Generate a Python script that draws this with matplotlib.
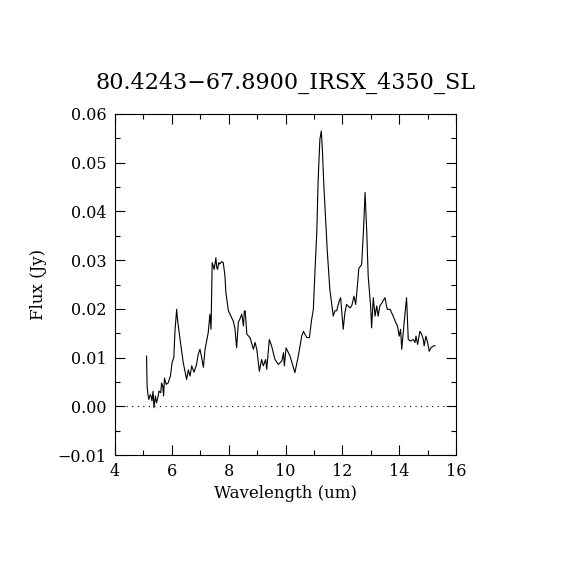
import matplotlib
matplotlib.use("Agg")
import matplotlib.pyplot as plt
from matplotlib.ticker import MultipleLocator

title = "80.4243\u221267.8900_IRSX_4350_SL"
xlabel = "Wavelength (um)"
ylabel = "Flux (Jy)"

wavelength = [5.11, 5.13, 5.16, 5.19, 5.24, 5.27, 5.30, 5.34, 5.37, 5.42, 5.46, 5.52, 5.55,
              5.61, 5.64, 5.68, 5.71, 5.74, 5.80, 5.87, 5.95, 6.01, 6.07, 6.11, 6.17, 6.20,
              6.29, 6.40, 6.52, 6.58, 6.64, 6.70, 6.78, 6.87, 6.93, 6.99, 7.05, 7.11, 7.17,
              7.28, 7.34, 7.38, 7.42, 7.49, 7.55, 7.58, 7.61, 7.65, 7.69, 7.75, 7.81, 7.87,
              7.90, 7.99, 8.08, 8.16, 8.22, 8.28, 8.34, 8.40, 8.46, 8.52, 8.55, 8.58, 8.64,
              8.75, 8.87, 8.93, 8.99, 9.08, 9.16, 9.22, 9.30, 9.34, 9.43, 9.51, 9.63, 9.75,
              9.87, 9.93, 9.96, 10.02, 10.16, 10.33, 10.45, 10.57, 10.63, 10.75, 10.84, 10.92,
              10.98, 11.04, 11.10, 11.15, 11.21, 11.26, 11.30, 11.35, 11.41, 11.47, 11.56,
              11.62, 11.68, 11.74, 11.80, 11.89, 11.94, 12.03, 12.09, 12.15, 12.27, 12.33,
              12.41, 12.47, 12.53, 12.58, 12.68, 12.74, 12.80, 12.86, 12.91, 13.00, 13.03,
              13.09, 13.15, 13.21, 13.26, 13.32, 13.40, 13.50, 13.58, 13.68, 13.79, 13.88,
              13.94, 14.00, 14.05, 14.09, 14.18, 14.26, 14.32, 14.40, 14.50, 14.56, 14.59,
              14.65, 14.73, 14.79, 14.85, 14.88, 14.94, 15.00, 15.06, 15.12, 15.20, 15.26]

flux = [0.0103, 0.0041, 0.0024, 0.0014, 0.0024, 0.0021, 0.0011, 0.0031, -0.0003, 0.0021, 0.0007,
        0.0021, 0.0031, 0.0028, 0.0048, 0.0041, 0.0021, 0.0058, 0.0045, 0.0048, 0.0062, 0.0090,
        0.0100, 0.0154, 0.0199, 0.0178, 0.0137, 0.0090, 0.0055, 0.0075, 0.0062, 0.0083, 0.0070,
        0.0086, 0.0107, 0.0117, 0.0100, 0.0080, 0.0117, 0.0151, 0.0189, 0.0158, 0.0295, 0.0281,
        0.0305, 0.0285, 0.0281, 0.0295, 0.0292, 0.0297, 0.0295, 0.0267, 0.0234, 0.0196, 0.0185,
        0.0175, 0.0160, 0.0120, 0.0172, 0.0180, 0.0189, 0.0165, 0.0195, 0.0196, 0.0148, 0.0141,
        0.0117, 0.0131, 0.0117, 0.0072, 0.0096, 0.0083, 0.0096, 0.0076, 0.0137, 0.0124, 0.0096,
        0.0086, 0.0093, 0.0110, 0.0083, 0.0120, 0.0103, 0.0069, 0.0103, 0.0144, 0.0154, 0.0141,
        0.0141, 0.0178, 0.0199, 0.0281, 0.0356, 0.0466, 0.0548, 0.0565, 0.0524, 0.0452, 0.0387,
        0.0319, 0.0240, 0.0213, 0.0185, 0.0196, 0.0196, 0.0216, 0.0223, 0.0158, 0.0192, 0.0209,
        0.0202, 0.0206, 0.0226, 0.0209, 0.0247, 0.0283, 0.0291, 0.0356, 0.0439, 0.0356, 0.0267,
        0.0202, 0.0161, 0.0223, 0.0185, 0.0206, 0.0185, 0.0206, 0.0213, 0.0223, 0.0199, 0.0199,
        0.0185, 0.0172, 0.0165, 0.0144, 0.0158, 0.0117, 0.0175, 0.0223, 0.0137, 0.0134, 0.0137,
        0.0131, 0.0144, 0.0127, 0.0154, 0.0148, 0.0137, 0.0124, 0.0144, 0.0131, 0.0113, 0.0120,
        0.0124, 0.0124]

xlim = (4, 16)
ylim = (-0.01, 0.06)

plt.rcParams['font.family'] = ['DejaVu Serif']

fig = plt.figure(figsize=(5.7, 5.7), dpi=100)
ax = fig.add_axes([115/570, 1 - 455/570, 341/570, 341/570])

ax.plot(wavelength, flux, color='black', linewidth=0.8)
ax.axhline(0, color='black', linewidth=0.8, linestyle=(0, (1, 4)))

ax.set_xlim(*xlim)
ax.set_ylim(*ylim)
ax.xaxis.set_major_locator(MultipleLocator(2))
ax.xaxis.set_minor_locator(MultipleLocator(1))
ax.yaxis.set_major_locator(MultipleLocator(0.01))
ax.yaxis.set_minor_locator(MultipleLocator(0.005))
ax.yaxis.set_major_formatter(plt.FuncFormatter(lambda v, p: f"{v:.2f}".replace('-', '\u2212')))
ax.tick_params(which='both', direction='in', top=True, right=True, labelsize=11.5, width=0.8)
ax.tick_params(which='major', length=7, pad=6)
ax.tick_params(which='minor', length=3.5)
for s in ax.spines.values():
    s.set_linewidth(0.8)

ax.set_xlabel(xlabel, fontsize=12, labelpad=3)
ax.set_ylabel(ylabel, fontsize=12, labelpad=8)
ax.set_title(title, fontsize=16, pad=18)

fig.savefig("out.png", dpi=100)
